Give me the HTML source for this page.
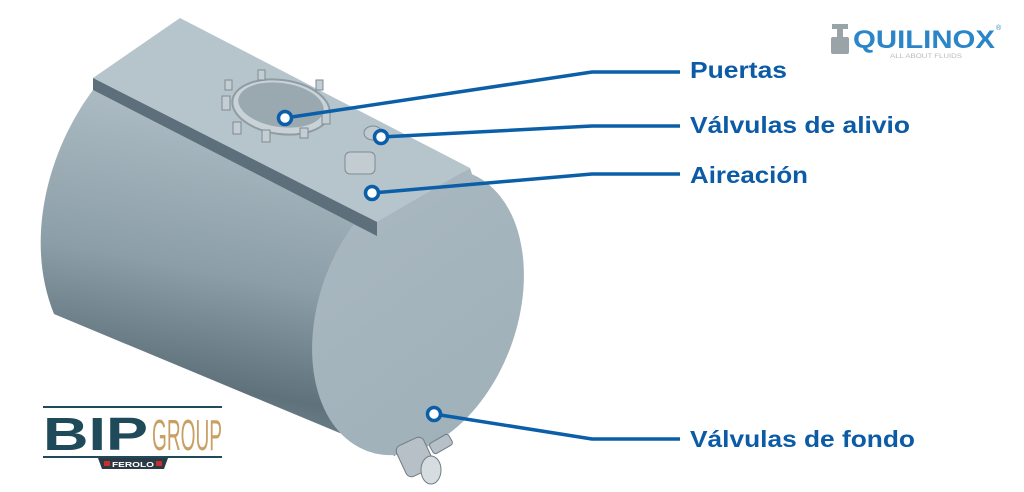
<!DOCTYPE html>
<html><head><meta charset="utf-8"><style>
html,body{margin:0;padding:0;background:#fff;}
svg{display:block}
</style></head><body>
<svg width="1024" height="492" viewBox="0 0 1024 492" xmlns="http://www.w3.org/2000/svg">
<defs>
<linearGradient id="body" x1="0.3" y1="0" x2="0.1" y2="1">
<stop offset="0" stop-color="#aebdc5"/>
<stop offset="0.45" stop-color="#8c9ea8"/>
<stop offset="0.75" stop-color="#5f727c"/>
<stop offset="1" stop-color="#8597a1"/>
</linearGradient>
<linearGradient id="face" x1="0" y1="0" x2="1" y2="1">
<stop offset="0" stop-color="#a9b8c0"/>
<stop offset="1" stop-color="#9fb0b9"/>
</linearGradient>
</defs>
<path d="M93,90 C48,150 24,240 54,314 L395,456 L430,300 L377,236 Z" fill="url(#body)"/>
<ellipse cx="418" cy="312" rx="99" ry="148" transform="rotate(20 418 312)" fill="url(#face)"/>
<polygon points="180,18 93,78 377,222 470,168" fill="#b6c4cc"/>
<polygon points="93,78 377,222 377,236 93,90" fill="#5c6f7a"/>
<polygon points="377,222 470,168 474,180 377,236" fill="#a8b7bf"/>
<ellipse cx="281" cy="107" rx="49" ry="27" transform="rotate(8 281 107)" fill="#c9d2d7" stroke="#8e9ca4" stroke-width="2"/>
<ellipse cx="281" cy="105" rx="43" ry="22" transform="rotate(8 281 105)" fill="#9aa8b0"/>
<g fill="#c4cdd2" stroke="#7d8b93" stroke-width="1">
<rect x="222" y="96" width="8" height="14"/><rect x="233" y="122" width="8" height="12"/>
<rect x="262" y="130" width="8" height="12"/><rect x="300" y="128" width="8" height="10"/>
<rect x="322" y="112" width="8" height="12"/><rect x="316" y="80" width="7" height="10"/>
<rect x="258" y="70" width="7" height="10"/><rect x="225" y="80" width="7" height="10"/>
</g>
<ellipse cx="373" cy="133" rx="9" ry="7" fill="#c0cad0" stroke="#7d8b93"/>
<rect x="345" y="152" width="30" height="22" rx="5" fill="#c3ccd1" stroke="#7d8b93"/>
<g fill="#b6c0c6" stroke="#6f7c84">
<rect x="400" y="440" width="30" height="34" rx="6" transform="rotate(-25 415 457)"/>
<ellipse cx="431" cy="470" rx="10" ry="14" fill="#d6dde1"/>
<rect x="430" y="438" width="22" height="12" rx="3" transform="rotate(-30 441 444)"/>
</g>
<g fill="none" stroke="#0b5fa8" stroke-width="3.5" stroke-linejoin="round">
<polyline points="285,118 592,72 680,72"/>
<polyline points="381,137 592,126 680,126"/>
<polyline points="372,193 592,174 680,174"/>
<polyline points="434,414 592,439 680,439"/>
</g>
<g fill="#fff" stroke="#0b5fa8" stroke-width="3.5">
<circle cx="285" cy="118" r="6.5"/>
<circle cx="381" cy="137" r="6.5"/>
<circle cx="372" cy="193" r="6.5"/>
<circle cx="434" cy="414" r="6.5"/>
</g>
<g font-family="Liberation Sans, sans-serif" font-weight="bold" font-size="23" fill="#0b5ba6">
<text x="690" y="78" textLength="97" lengthAdjust="spacingAndGlyphs">Puertas</text>
<text x="690" y="133" textLength="220" lengthAdjust="spacingAndGlyphs">Válvulas de alivio</text>
<text x="690" y="183" textLength="118" lengthAdjust="spacingAndGlyphs">Aireación</text>
<text x="690" y="447" textLength="225" lengthAdjust="spacingAndGlyphs">Válvulas de fondo</text>
</g>
<g>
<rect x="832" y="24" width="16" height="5" fill="#9aa3a8"/>
<rect x="837" y="29" width="6" height="8" fill="#9aa3a8"/>
<rect x="831" y="37" width="18" height="17" rx="2" fill="#9aa3a8"/>
<text x="853" y="48" font-family="Liberation Sans, sans-serif" font-weight="bold" font-size="25" fill="#2a86c8" textLength="142" lengthAdjust="spacingAndGlyphs">QUILINOX</text>
<text x="996" y="30" font-family="Liberation Sans, sans-serif" font-size="7" fill="#2a86c8">®</text>
<text x="890" y="58" font-family="Liberation Sans, sans-serif" font-size="6" fill="#b6bcc0" textLength="72" lengthAdjust="spacingAndGlyphs">ALL ABOUT FLUIDS</text>
</g>
<g>
<rect x="43" y="406" width="179" height="2" fill="#1f4a5a"/>
<rect x="43" y="456" width="179" height="2" fill="#1f4a5a"/>
<text x="43" y="450" font-family="Liberation Sans, sans-serif" font-weight="bold" font-size="46" fill="#1f4a5a" textLength="105" lengthAdjust="spacingAndGlyphs">BIP</text>
<text x="152" y="450" font-family="Liberation Sans Narrow, Liberation Sans, sans-serif" font-size="44" fill="#c9a063" textLength="70" lengthAdjust="spacingAndGlyphs">GROUP</text>
<polygon points="98,458 168,458 164,469 102,469" fill="#2b3a44"/>
<rect x="104" y="461" width="6" height="5" fill="#c8302f"/>
<rect x="156" y="461" width="6" height="5" fill="#c8302f"/>
<text x="112" y="467" font-family="Liberation Sans, sans-serif" font-weight="bold" font-size="7" fill="#fff" textLength="42" lengthAdjust="spacingAndGlyphs">FEROLO</text>
</g>
</svg>
</body></html>
